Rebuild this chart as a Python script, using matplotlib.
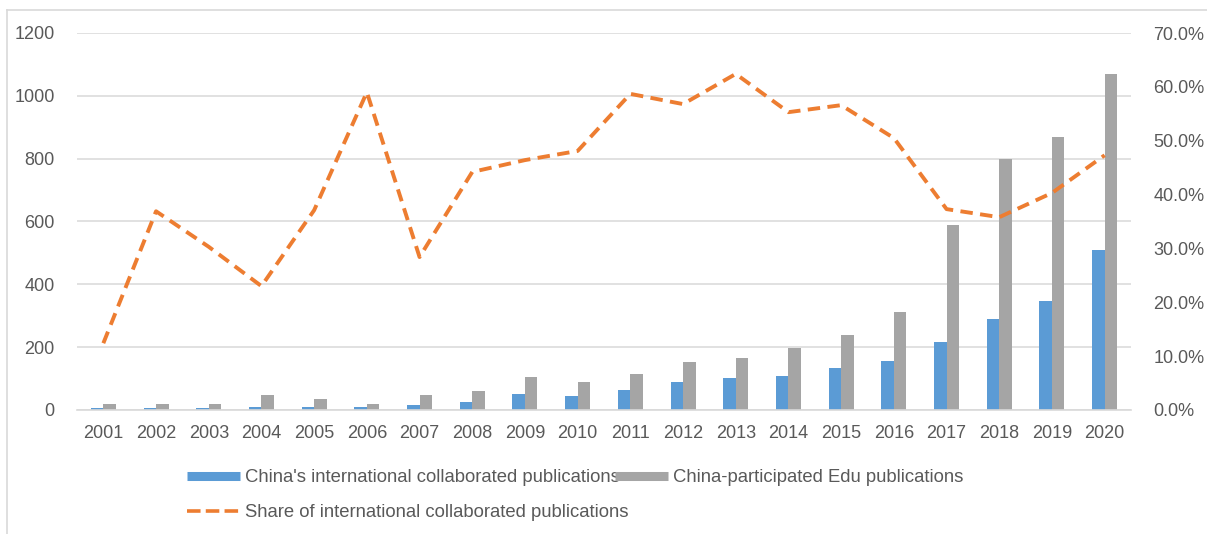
import numpy as np
import matplotlib.pyplot as plt
from matplotlib.lines import Line2D
from matplotlib.ticker import FuncFormatter

plt.rcParams['font.family'] = ['Liberation Sans', 'DejaVu Sans']

years = [str(y) for y in range(2001, 2021)]
intl_pubs = [6, 5, 5, 10, 10, 10, 16, 26, 50, 45,
             64, 89, 102, 108, 134, 157, 217, 289, 348, 510]
edu_pubs = [20, 20, 20, 48, 35, 20, 48, 59, 104, 89,
            115, 153, 166, 197, 240, 313, 588, 798, 868, 1068]
share = [12.4, 36.9, 30.3, 23.0, 37.1, 59.0, 28.4, 44.2, 46.4, 48.1,
         58.7, 56.8, 62.4, 55.3, 56.6, 50.5, 37.3, 35.8, 40.3, 47.3]

BLUE = '#5B9BD5'
GREY = '#A5A5A5'
ORANGE = '#ED7D31'
TXT = '#595959'
GRID = '#D9D9D9'
FS = 13

fig = plt.figure(figsize=(12.07, 5.34), dpi=100)
ax = fig.add_axes([77 / 1207, 1 - 410 / 534, (1131 - 77) / 1207, (410 - 33) / 534])
ax2 = ax.twinx()

x = np.arange(len(years))
w = 0.237
ax.bar(x - w / 2, intl_pubs, w, color=BLUE, zorder=2)
ax.bar(x + w / 2, edu_pubs, w, color=GREY, zorder=2)
ax.set_xlim(-0.5, len(years) - 0.5)
ax.set_ylim(0, 1200)
ax.set_yticks(range(0, 1201, 200))
ax.set_xticks(x)
ax.set_xticklabels(years)
ax.grid(axis='y', color=GRID, lw=1.1, zorder=0)
ax.set_axisbelow(True)

ax2.plot(x, share, color=ORANGE, lw=2.8, dashes=(3.2, 1.9), zorder=3)
ax2.set_ylim(0, 70)
ax2.set_yticks(range(0, 71, 10))
ax2.yaxis.set_major_formatter(FuncFormatter(lambda v, p: f'{v:.1f}%'))

for a in (ax, ax2):
    for s in a.spines.values():
        s.set_visible(False)
    a.tick_params(length=0, labelsize=FS, labelcolor=TXT)
ax.tick_params(axis='y', pad=16)
ax2.tick_params(axis='y', pad=16)
ax.tick_params(axis='x', pad=11)
ax.spines['bottom'].set_visible(True)
ax.spines['bottom'].set_color(GRID)
ax.spines['bottom'].set_linewidth(1.2)

# chart frame (top and left edges)
fig.add_artist(Line2D([7 / 1207, 1], [1 - 10 / 534, 1 - 10 / 534], color=GRID, lw=1.2))
fig.add_artist(Line2D([7 / 1207, 7 / 1207], [0, 1 - 10 / 534], color=GRID, lw=1.2))

handles = [
    Line2D([], [], color=BLUE, lw=6.5, solid_capstyle='butt'),
    Line2D([], [], color=ORANGE, lw=2.6, dashes=(3.75, 1.45)),
    Line2D([], [], color=GREY, lw=6.5, solid_capstyle='butt'),
]
labels = ["China's international collaborated publications",
          'Share of international collaborated publications',
          'China-participated Edu publications']
fig.legend(handles, labels, loc='upper left', bbox_to_anchor=(187 / 1207, 1 - 469 / 534),
           ncol=2, frameon=False, fontsize=13.3, labelcolor=TXT, handlelength=2.85,
           handletextpad=0.3, labelspacing=1.0, columnspacing=-0.73, borderpad=0,
           borderaxespad=0)

fig.savefig('out.png', dpi=100)
